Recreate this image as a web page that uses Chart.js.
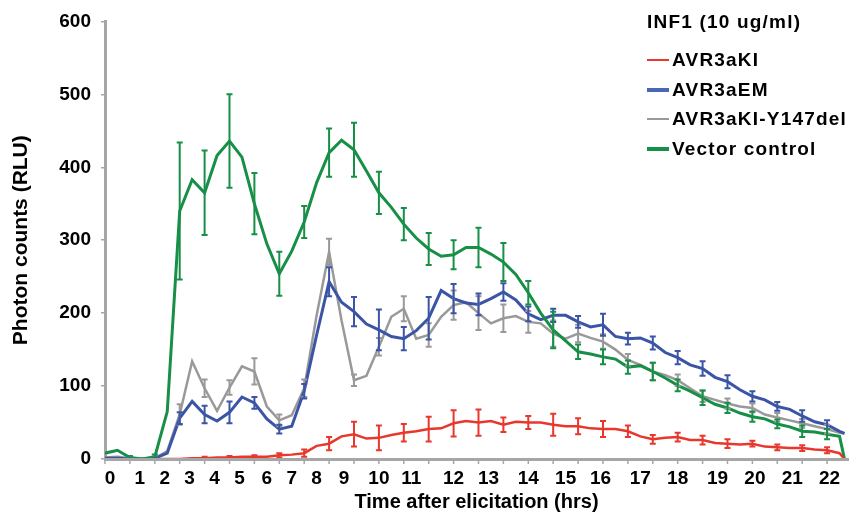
<!DOCTYPE html>
<html>
<head>
<meta charset="utf-8">
<script src="https://cdn.jsdelivr.net/npm/chart.js@4.4.0/dist/chart.umd.min.js"></script>
<style>
  body { margin: 0; background: #fff; }
  #wrap { position: relative; width: 856px; height: 520px; }
  #legend { position: absolute; left: 0; top: 0; font: bold 19px "Liberation Sans", Arial, sans-serif; letter-spacing: 1.2px; color: #000; }
  #legend div { position: absolute; white-space: nowrap; line-height: 24px; }
  #legend .sw { position: absolute; left: 647px; width: 22px; }
</style>
</head>
<body>
<div id="wrap">
  <canvas id="chart" width="856" height="520"></canvas>
  <div id="legend">
    <div style="left:647px; top:10px;">INF1 (10 ug/ml)</div>
    <span class="sw" style="top:59px; height:2px; background:#e8372c;"></span>
    <div style="left:672px; top:48px;">AVR3aKI</div>
    <span class="sw" style="top:88px; height:4px; background:#4a67b4;"></span>
    <div style="left:672px; top:78px;">AVR3aEM</div>
    <span class="sw" style="top:118px; height:2px; background:#999999;"></span>
    <div style="left:672px; top:107px;">AVR3aKI-Y147del</div>
    <span class="sw" style="top:147px; height:4px; background:#178f47;"></span>
    <div style="left:672px; top:137px;">Vector control</div>
  </div>
</div>
<script>
// Eje x: número de lectura (una marca cada 10 lecturas), las horas caen en posiciones irregulares
const readings = [0,5,10,15,20,25,30,35,40,45,50,55,60,65,70,75,80,85,90,95,
  100,105,110,115,120,125,130,135,140,145,150,155,160,165,170,175,180,185,190,195,
  200,205,210,215,220,225,230,235,240,245,250,255,260,265,270,275,280,285,290,295,297];
const hourLabels = ["0","1","2","3","4","5","6","7","8","9","10","11","12","13","14","15","16","17","18","19","20","21","22"];
const hourAt = [2,14,24,34,44,54,65,75,85,96,110,123,140,154,170,185,199,215,230,246,261,276,291];

// Photon counts (RLU)
const redKI = [null,null,null,null,0,0,0,1,1,2, 2,3,3,3,5,6,8,18,21,31,
  34,28,29,33,36,38,41,42,49,52, 50,52,47,51,50,50,47,45,45,42,
  41,41,38,31,27,29,30,26,26,22, 21,20,21,17,16,15,15,13,12,8, 0];
const blueEM = [1,1,0,0,1,8,56,79,61,52, 64,85,77,55,41,45,93,170,243,215,
  202,185,177,168,165,176,193,231,220,214, 212,220,229,218,199,191,197,197,188,181,
  184,168,165,166,159,146,139,129,124,112, 106,95,86,81,72,68,59,51,47,38, 35];
const grayDel = [2,3,1,0,1,11,61,134,97,66, 98,127,120,72,53,60,97,197,284,190,
  108,114,154,195,206,165,170,195,211,215, 200,186,193,196,188,186,172,165,172,166,
  161,150,136,129,120,115,108,97,86,81, 76,72,70,61,57,53,49,45,41,36, 35];
const greenVec = [8,12,2,0,3,65,340,383,365,416, 436,414,350,295,254,285,325,379,420,437,
  424,395,365,345,322,303,288,278,280,290, 290,281,270,253,228,200,177,162,147,144,
  140,137,126,128,120,111,101,93,84,75, 70,63,58,55,48,44,38,37,34,31, 0];

// Barras de error (±) cada 10 lecturas
const errAt = [10,20,30,40,50,60,70,80,90,100,110,120,130,140,150,160,170,180,190,200,210,220,230,240,250,260,270,280,290];
const redErr = [0,0,0,2,2,2,3,5,9,17, 17,12,17,18,18,10,9,15,11,11, 8,6,6,6,6,4,4,4,4];
const blueErr = [1,1,8,12,15,8,6,10,20,20, 28,16,29,20,15,12,10,9,8,15, 8,9,9,10,9,7,6,8,6];
const grayErr = [1,1,14,12,10,18,8,12,18,8, 12,17,16,20,23,19,15,18,12,10, 8,12,8,8,7,6,6,6,6];
const greenErr = [2,3,94,58,64,42,30,22,33,37, 29,22,22,20,27,26,16,25,10,10, 9,12,8,10,7,7,6,8,7];

const axisGray = "#a6a6a6";
const fontFamily = '"Liberation Sans", Arial, sans-serif';
function boldFont(size) {
  return { family: fontFamily, size: size, weight: "bold" };
}

function points(vals) {
  return readings.map((r, i) => ({ x: r, y: vals[i] }));
}

// Marcas del eje x cada 10 lecturas (no coinciden con las etiquetas de horas)
const readingTicks = {
  id: "readingTicks",
  afterDraw(chart) {
    const ctx = chart.ctx;
    const xs = chart.scales.x;
    ctx.save();
    ctx.strokeStyle = axisGray;
    ctx.lineWidth = 1.5;
    ctx.beginPath();
    for (let r = 0; r <= 290; r += 10) {
      const px = xs.getPixelForValue(r);
      ctx.moveTo(px, xs.top + 1);
      ctx.lineTo(px, xs.top + 5);
    }
    ctx.stroke();
    ctx.restore();
  }
};

// Dibuja las barras de error con las escalas del gráfico
const errorBars = {
  id: "errorBars",
  afterDatasetsDraw(chart) {
    const ctx = chart.ctx;
    const xs = chart.scales.x;
    const ys = chart.scales.y;
    chart.data.datasets.slice().reverse().forEach(ds => {
      ctx.save();
      ctx.strokeStyle = ds.borderColor;
      ctx.lineWidth = 2;
      errAt.forEach((r, i) => {
        const e = ds.errors[i];
        const v = ds.data[readings.indexOf(r)].y;
        if (!e || v === null) return;
        const px = xs.getPixelForValue(r);
        const top = ys.getPixelForValue(v + e);
        const bot = ys.getPixelForValue(Math.max(v - e, 0));
        ctx.beginPath();
        ctx.moveTo(px, top); ctx.lineTo(px, bot);
        ctx.moveTo(px - 3, top); ctx.lineTo(px + 3, top);
        ctx.moveTo(px - 3, bot); ctx.lineTo(px + 3, bot);
        ctx.stroke();
      });
      ctx.restore();
    });
  }
};

new Chart(document.getElementById("chart"), {
  type: "line",
  data: {
    datasets: [
      { label: "AVR3aKI", data: points(redKI), errors: redErr, borderColor: "#e8372c", borderWidth: 2.5 },
      { label: "Vector control", data: points(greenVec), errors: greenErr, borderColor: "#178f47", borderWidth: 3 },
      { label: "AVR3aEM", data: points(blueEM), errors: blueErr, borderColor: "#3b55a6", borderWidth: 3 },
      { label: "AVR3aKI-Y147del", data: points(grayDel), errors: grayErr, borderColor: "#999999", borderWidth: 2.5 }
    ]
  },
  options: {
    responsive: false,
    animation: false,
    devicePixelRatio: 1,
    layout: { padding: { top: 21, right: 8, bottom: 0, left: 0 } },
    elements: { point: { radius: 0 }, line: { tension: 0 } },
    plugins: { legend: { display: false }, tooltip: { enabled: false } },
    scales: {
      x: {
        type: "linear", position: "bottom", min: 0, max: 298.4,
        afterBuildTicks: s => { s.ticks = hourAt.map(v => ({ value: v })); },
        ticks: {
          autoSkip: false, maxRotation: 0, padding: 8, color: "#000", font: boldFont(19),
          callback: (v, i) => hourLabels[i]
        },
        grid: { drawOnChartArea: false, drawTicks: false },
        border: { color: axisGray, width: 3, z: 1 },
        title: { display: true, text: "Time after elicitation (hrs)", color: "#000", font: boldFont(20), padding: { top: 0, bottom: 6 } },
        afterFit: s => { s.height = 61; }
      },
      y: {
        min: 0, max: 600,
        ticks: { stepSize: 100, color: "#000", font: boldFont(19), padding: 10 },
        grid: { drawOnChartArea: false, tickLength: 4, color: axisGray, lineWidth: 1.5 },
        border: { color: axisGray, width: 3 },
        title: { display: true, text: "Photon counts (RLU)", color: "#000", font: boldFont(21), padding: { top: 9, bottom: 0 } },
        afterFit: s => { s.width = 105; }
      }
    }
  },
  plugins: [errorBars, readingTicks]
});
</script>
</body>
</html>
